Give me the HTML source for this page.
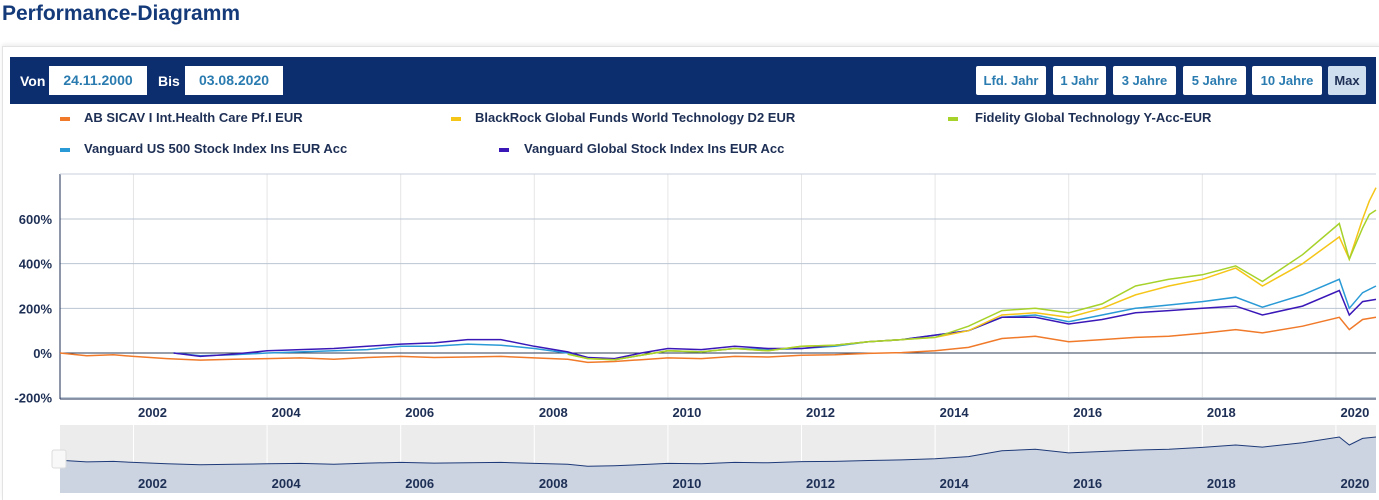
<!DOCTYPE html>
<html><head><meta charset="utf-8"><style>
body{margin:0;width:1379px;height:499px;background:#fff;font-family:"Liberation Sans",sans-serif;overflow:hidden;position:relative}
.t{position:absolute;left:2px;top:2px;font-size:21px;font-weight:bold;color:#143a7a}
.box{position:absolute;left:2px;top:46px;width:1377px;height:453px;border-top:1px solid #e3e3e3;border-left:1px solid #e3e3e3;box-shadow:0 -2px 4px #eee}
.bar{position:absolute;left:10px;top:57px;width:1366px;height:47px;background:#0c2e6e}
.lbl{position:absolute;top:73px;color:#fff;font-weight:bold;font-size:14px}
.inp{position:absolute;top:66px;height:29px;background:#fff;color:#2a7bb0;font-weight:bold;font-size:14px;line-height:29px;text-align:center}
.btn{position:absolute;top:66px;height:29px;background:#fff;color:#2a7bb0;font-weight:bold;font-size:13px;line-height:29px;text-align:center;border-radius:2px}
.leg{position:absolute;font-size:13px;font-weight:bold;color:#1e2f55}
.mk{position:absolute;width:10px;height:4px}
</style></head><body>
<div class="t">Performance-Diagramm</div>
<div class="box"></div>
<div class="bar"></div>
<div class="lbl" style="left:20px">Von</div>
<div class="inp" style="left:49px;width:98px">24.11.2000</div>
<div class="lbl" style="left:158px">Bis</div>
<div class="inp" style="left:185px;width:98px">03.08.2020</div>
<div class="btn" style="left:976px;width:70px">Lfd. Jahr</div>
<div class="btn" style="left:1053px;width:53px">1 Jahr</div>
<div class="btn" style="left:1113px;width:63px">3 Jahre</div>
<div class="btn" style="left:1183px;width:63px">5 Jahre</div>
<div class="btn" style="left:1252px;width:70px">10 Jahre</div>
<div class="btn" style="left:1328px;width:38px;background:#cfdff0;color:#1e2f55">Max</div>

<div class="mk" style="left:60px;top:117px;background:#f07a2a"></div>
<div class="leg" style="left:84px;top:110px">AB SICAV I Int.Health Care Pf.I EUR</div>
<div class="mk" style="left:451px;top:117px;background:#f5c518"></div>
<div class="leg" style="left:475px;top:110px">BlackRock Global Funds World Technology D2 EUR</div>
<div class="mk" style="left:948px;top:117px;background:#a6d22a"></div>
<div class="leg" style="left:975px;top:110px">Fidelity Global Technology Y-Acc-EUR</div>
<div class="mk" style="left:60px;top:148px;background:#2a9ad6"></div>
<div class="leg" style="left:84px;top:141px">Vanguard US 500 Stock Index Ins EUR Acc</div>
<div class="mk" style="left:499px;top:148px;background:#3a18b8"></div>
<div class="leg" style="left:524px;top:141px">Vanguard Global Stock Index Ins EUR Acc</div>

<svg id="c" width="1379" height="499" style="position:absolute;left:0;top:0"></svg>
<script>
const xStart=2000.9, xEnd=2020.6;
const yearTicks=[2002,2004,2006,2008,2010,2012,2014,2016,2018,2020];
const yTicks=[-200,0,200,400,600];
const yTickLabels=["-200%","0%","200%","400%","600%"];
const abDates=[2000.9,2001.3,2001.7,2002,2002.5,2003,2003.5,2004,2004.5,2005,2005.5,2006,2006.5,2007,2007.5,2008,2008.5,2008.8,2009.2,2009.6,2010,2010.5,2011,2011.5,2012,2012.5,2013,2013.5,2014,2014.5,2015,2015.5,2016,2016.5,2017,2017.5,2018,2018.5,2018.9,2019.5,2020.05,2020.2,2020.4,2020.6];
const abValues=[0,-12,-8,-15,-25,-32,-28,-25,-22,-28,-20,-15,-20,-18,-15,-22,-28,-42,-38,-30,-22,-25,-15,-18,-10,-8,-2,2,10,25,65,75,50,60,70,75,88,105,90,120,160,105,150,160];
const mDates=[2002.6,2003,2003.5,2004,2004.5,2005,2005.5,2006,2006.5,2007,2007.5,2008,2008.5,2008.8,2009.2,2009.6,2010,2010.5,2011,2011.5,2012,2012.5,2013,2013.5,2014,2014.5,2015,2015.5,2016,2016.5,2017,2017.5,2018,2018.5,2018.9,2019.5,2020.05,2020.2,2020.4,2020.6];
const usValues=[0,-12,-8,0,5,10,15,30,30,40,35,20,0,-20,-30,-10,10,5,20,15,20,30,50,60,80,100,160,170,140,170,200,215,230,250,205,260,330,200,270,300];
const globalValues=[0,-15,-5,10,15,20,30,40,45,60,60,30,5,-20,-25,0,20,15,30,20,20,35,50,60,80,100,160,160,130,150,180,190,200,210,170,210,280,170,230,240];
const tDates=[2008.5,2008.8,2009.2,2009.6,2010,2010.5,2011,2011.5,2012,2012.5,2013,2013.5,2014,2014.5,2015,2015.5,2016,2016.5,2017,2017.5,2018,2018.5,2018.9,2019.5,2020.05,2020.2,2020.4,2020.5,2020.6];
const brValues=[-5,-25,-30,-10,10,5,20,10,30,35,50,60,70,100,170,180,160,200,260,300,330,380,300,400,520,420,600,680,740];
const fiValues=[-5,-25,-30,-10,10,5,20,10,30,35,50,60,70,120,190,200,180,220,300,330,350,390,320,440,580,420,560,620,640];

const svg=document.getElementById('c');const NS='http://www.w3.org/2000/svg';
const L=60,R=1376,T=174,B=399,NT=425,NB=493;
const x=v=>L+(v-xStart)/(xEnd-xStart)*(R-L);
const y=v=>353-v*(353-219)/600;
function mk(tag,attrs,name,parent){const e=document.createElementNS(NS,tag);for(const k in attrs)e.setAttribute(k,attrs[k]);


(parent||svg).appendChild(e);return e;}
// navigator background
mk('rect',{x:L,y:NT,width:R-L,height:NB-NT,fill:'#ececec'},'navigator-background');
// grid
yearTicks.forEach(t=>{mk('line',{x1:x(Math.floor(t)),x2:x(Math.floor(t)),y1:T,y2:B,stroke:'#e6e6e6'},'x-gridline');
mk('line',{x1:x(t),x2:x(t),y1:NT,y2:NB,stroke:'#fff'},'nav-gridline');});
yTicks.forEach((t,i)=>{mk('line',{x1:L,x2:R,y1:y(t),y2:y(t),stroke:t===0?'#2c3e5a':'#b8c4d2'},'y-gridline');
const tx=mk('text',{x:52,y:y(t)+5,'text-anchor':'end','font-size':13,'font-weight':'bold',fill:'#1e2f55'},'y-tick-label');tx.textContent=yTickLabels[i];});
mk('line',{x1:L,x2:L,y1:T,y2:B,stroke:'#1e2f55'},'y-axis-line');
mk('line',{x1:L,x2:R,y1:B,y2:B,stroke:'#1e2f55'},'x-axis-line');
mk('line',{x1:L,x2:R,y1:T,y2:T,stroke:'#c8d0dc'},'top-border');
yearTicks.forEach(t=>{const tx=mk('text',{x:x(t)+19,y:417,'text-anchor':'middle','font-size':13,'font-weight':'bold',fill:'#1e2f55'},'x-tick-label');tx.textContent=t;});
function path(d,v,yf){return d.map((t,i)=>(i?'L':'M')+x(t).toFixed(1)+','+yf(v[i]).toFixed(1)).join('');}
mk('path',{d:path(abDates,abValues,y),fill:'none',stroke:'#f07a2a','stroke-width':1.5},'series-ab-health-care');
mk('path',{d:path(mDates,usValues,y),fill:'none',stroke:'#2a9ad6','stroke-width':1.5},'series-vanguard-us-500');
mk('path',{d:path(mDates,globalValues,y),fill:'none',stroke:'#3a18b8','stroke-width':1.5},'series-vanguard-global');
mk('path',{d:path(tDates,brValues,y),fill:'none',stroke:'#f5c518','stroke-width':1.5},'series-blackrock-technology');
mk('path',{d:path(tDates,fiValues,y),fill:'none',stroke:'#a6d22a','stroke-width':1.5},'series-fidelity-technology');
// navigator
const ny=v=>466-(v+40)/200*29;
const np=path(abDates,abValues,ny);
mk('path',{d:np+'L'+R+','+NB+'L'+L+','+NB+'Z',fill:'#ccd4e2',stroke:'none'},'navigator-area');
mk('path',{d:np,fill:'none',stroke:'#1e3a78','stroke-width':1},'navigator-line');
yearTicks.forEach(t=>{const tx=mk('text',{x:x(t)+19,y:488,'text-anchor':'middle','font-size':13,'font-weight':'bold',fill:'#1e2f55'},'navigator-tick-label');tx.textContent=t;});
const h=mk('rect',{x:52,y:450,width:14,height:18,rx:2,fill:'#f8f8f8',stroke:'#ddd'},'navigator-handle-left');

</script>
</body></html>
